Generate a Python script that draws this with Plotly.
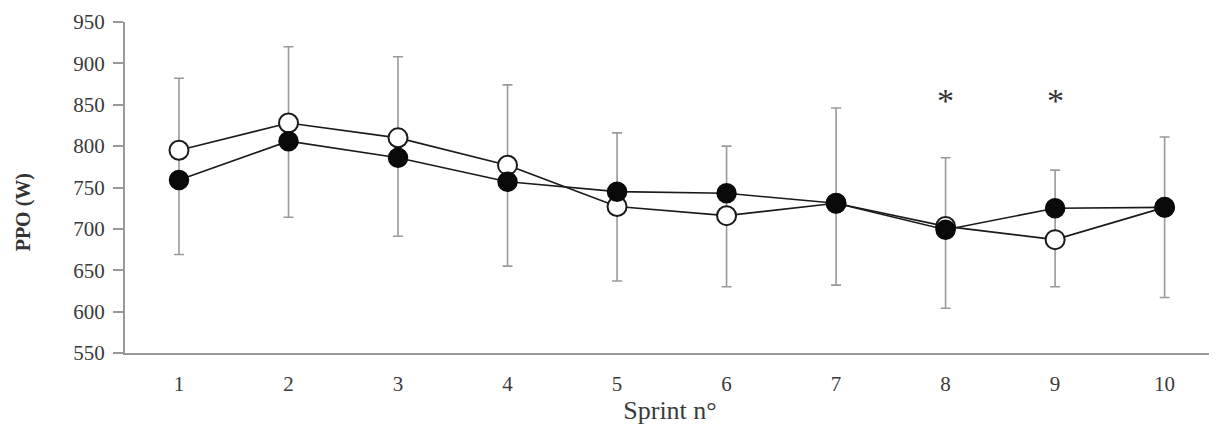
import plotly.graph_objects as go

sprints = [1, 2, 3, 4, 5, 6, 7, 8, 9, 10]
open_vals = [795, 828, 810, 777, 727, 716, 731, 703, 687, 726]
filled_vals = [759, 806, 786, 757, 745, 743, 731, 699, 725, 726]
whisker_top = [882, 920, 908, 874, 816, 800, 846, 786, 771, 811]
whisker_bottom = [669, 714, 691, 655, 637, 630, 632, 604, 630, 617]
star_sprints = [8, 9]
star_level = 855
y_ticks = [550, 600, 650, 700, 750, 800, 850, 900, 950]

serif = "Liberation Serif, Times New Roman, serif"

fig = go.Figure()

# error bars (gray), drawn beneath the series
fig.add_trace(go.Scatter(
    x=sprints, y=open_vals, mode="markers",
    marker=dict(size=1, opacity=0),
    error_y=dict(type="data", symmetric=False,
                 array=[t - v for t, v in zip(whisker_top, open_vals)],
                 arrayminus=[v - b for v, b in zip(open_vals, whisker_bottom)],
                 color="#9a9a9a", thickness=1.6, width=5),
    showlegend=False, hoverinfo="skip"))

fig.add_trace(go.Scatter(
    x=sprints, y=open_vals, mode="lines+markers",
    line=dict(color="#1a1a1a", width=1.6),
    marker=dict(symbol="circle", size=19, color="white",
                line=dict(color="#1a1a1a", width=2)),
    showlegend=False))

fig.add_trace(go.Scatter(
    x=sprints, y=filled_vals, mode="lines+markers",
    line=dict(color="#1a1a1a", width=1.6),
    marker=dict(symbol="circle", size=19, color="#0a0a0a",
                line=dict(color="#0a0a0a", width=1.5)),
    showlegend=False))

for s in star_sprints:
    fig.add_annotation(x=s, y=star_level, text="*", showarrow=False,
                       font=dict(family=serif, size=34, color="#333333"))

# y-axis title placed as in the reference (slightly below the axis centre)
fig.add_annotation(xref="paper", x=0, xshift=-102, yref="y", y=720,
                   text="<b>PPO (W)</b>", textangle=-90, showarrow=False,
                   xanchor="center", yanchor="middle",
                   font=dict(family=serif, size=20, color="#333333"))

fig.update_layout(
    width=1209, height=419,
    margin=dict(l=117, r=2, t=14, b=74),
    paper_bgcolor="white", plot_bgcolor="white",
    font=dict(family=serif, color="#3a3a3a", size=21),
)
fig.update_xaxes(
    range=[0.507, 10.46], tickvals=sprints, ticktext=[str(s) for s in sprints],
    showline=True, linecolor="#999999", linewidth=2, showgrid=False,
    zeroline=False, ticks="", ticklabelstandoff=11,
    title=dict(text="Sprint n°", font=dict(family=serif, size=26, color="#3a3a3a"), standoff=6),
)
fig.update_yaxes(
    range=[550, 950], tickvals=y_ticks,
    showline=True, linecolor="#999999", linewidth=2, showgrid=False,
    zeroline=False, ticks="outside", ticklen=10, tickcolor="#999999", tickwidth=2,
    ticklabelstandoff=4,
)

fig.write_html("out.html")
